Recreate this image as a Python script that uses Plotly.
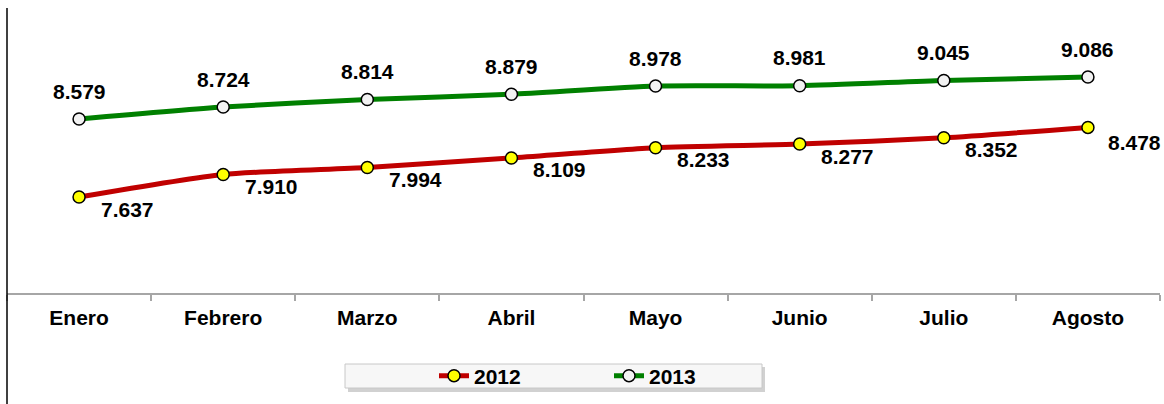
import plotly.graph_objects as go

months = ["Enero", "Febrero", "Marzo", "Abril", "Mayo", "Junio", "Julio", "Agosto"]
v2012 = [7.637, 7.910, 7.994, 8.109, 8.233, 8.277, 8.352, 8.478]
v2013 = [8.579, 8.724, 8.814, 8.879, 8.978, 8.981, 9.045, 9.086]
lab2012 = ["7.637", "7.910", "7.994", "8.109", "8.233", "8.277", "8.352", "8.478"]
lab2013 = ["8.579", "8.724", "8.814", "8.879", "8.978", "8.981", "9.045", "9.086"]

W, H = 1164, 404
L, R, T, B = 7, 4, 8, 111
pw, ph = W - L - R, H - T - B

def px(x):
    return (x - L) / pw

def py(y):
    return (H - B - y) / ph

FONT = "Liberation Sans, Arial, sans-serif"

fig = go.Figure()
fig.add_trace(go.Scatter(
    x=months, y=v2012, name="2012", mode="lines+markers",
    line=dict(color="#C00000", width=5, shape="spline", smoothing=0.6),
    marker=dict(size=12, color="#FFFF00", line=dict(color="black", width=1.5)),
))
fig.add_trace(go.Scatter(
    x=months, y=v2013, name="2013", mode="lines+markers",
    line=dict(color="#008000", width=5, shape="spline", smoothing=0.6),
    marker=dict(size=12, color="#F2F2F2", line=dict(color="black", width=1.5)),
))

ann = []
for m, v, t in zip(months, v2013, lab2013):
    ann.append(dict(x=m, y=v, text=t, showarrow=False, yshift=28,
                    font=dict(family=FONT, size=21, color="black", weight="bold")))
for i, (m, v, t) in enumerate(zip(months, v2012, lab2012)):
    ann.append(dict(x=m, y=v, text=t, showarrow=False,
                    xshift=47 if i == len(months) - 1 else 48,
                    yshift=-15 if i == len(months) - 1 else -12,
                    font=dict(family=FONT, size=21, color="black", weight="bold")))

shapes = [
    # left vertical line
    dict(type="line", xref="paper", yref="paper", x0=0, x1=0,
         y0=py(H), y1=1, line=dict(color="black", width=1.5)),
    # legend shadow
    dict(type="rect", xref="paper", yref="paper", x0=px(348), x1=px(765),
         y0=py(392), y1=py(367), fillcolor="rgba(0,0,0,0.18)", line=dict(width=0), layer="below"),
    # legend box
    dict(type="rect", xref="paper", yref="paper", x0=px(345), x1=px(762),
         y0=py(388), y1=py(364), fillcolor="#F7F7F7", line=dict(color="#C8C8C8", width=1), layer="below"),
]

fig.update_layout(
    width=W, height=H,
    margin=dict(l=L, r=R, t=T, b=B, autoexpand=False),
    paper_bgcolor="white", plot_bgcolor="white",
    showlegend=True,
    legend=dict(orientation="h", x=px(434), xanchor="left", y=py(376), yanchor="middle",
                bgcolor="rgba(0,0,0,0)", entrywidth=130, entrywidthmode="pixels",
                font=dict(family=FONT, size=21, color="black", weight="bold")),
    annotations=ann,
    shapes=shapes,
    xaxis=dict(type="category", range=[-0.5, 7.5], showgrid=False, zeroline=False,
               showline=True, linecolor="#A6A6A6", linewidth=2,
               ticks="outside", tickson="boundaries", ticklen=6, tickcolor="#A6A6A6", tickwidth=2,
               ticklabelstandoff=5,
               tickfont=dict(family=FONT, size=21, color="black", weight="bold")),
    yaxis=dict(range=[6.478, 9.92], showgrid=False, zeroline=False, showline=False,
               showticklabels=False, ticks=""),
)

fig.write_html("out.html", config={"displayModeBar": False},
               post_script="document.body.style.margin='0';document.body.style.overflow='hidden';")
